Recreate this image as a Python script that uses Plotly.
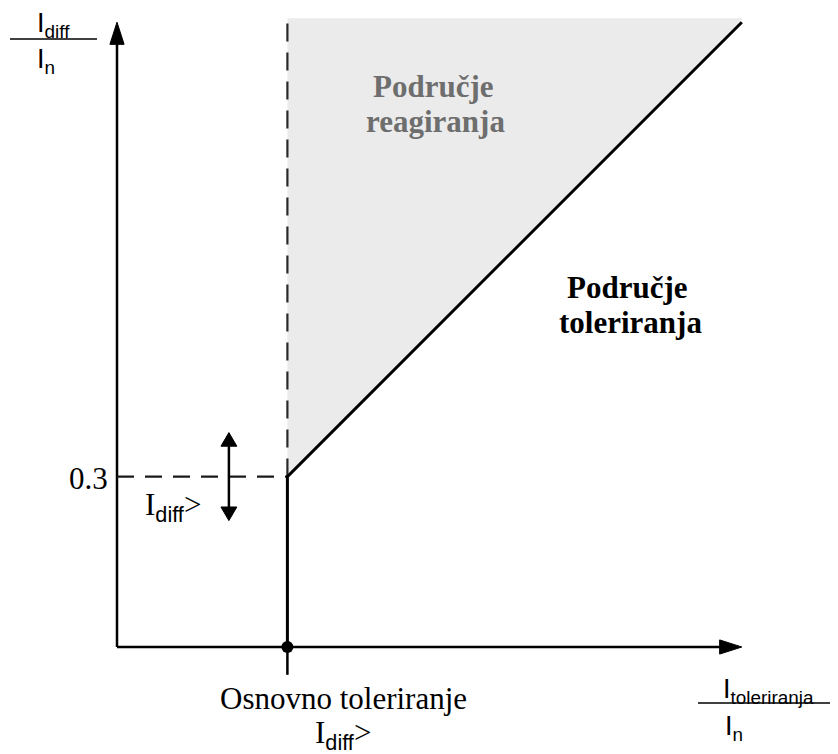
import plotly.graph_objects as go

# ---- conceptual data (per-unit values) ----
knee_x = 0.3          # basic tolerance (Osnovno toleriranje)
knee_y = 0.3          # I_diff> threshold
char_x = [knee_x, knee_x, 1.1]     # characteristic: vertical then slope-1 line
char_y = [0.0, knee_y, 1.1]
region_top = 1.107
axis_end = 1.1
arrow_span = 0.0775    # half-length of the I_diff> adjustment arrow
arrow_x = 0.197
tick_below = -0.049

SERIF = "Liberation Serif, Times New Roman, serif"
SANS = "Liberation Sans, Arial, sans-serif"

fig = go.Figure()

# shaded operate region
fig.add_trace(go.Scatter(
    x=[knee_x, knee_x, 1.102, knee_x], y=[knee_y, region_top, region_top, knee_y],
    mode="lines", fill="toself", fillcolor="#ebebeb", line=dict(width=0),
    hoverinfo="skip", showlegend=False))

# axes
fig.add_trace(go.Scatter(x=[0, 0], y=[0, axis_end - 0.03], mode="lines",
                         line=dict(color="black", width=2.5), showlegend=False, hoverinfo="skip"))
fig.add_trace(go.Scatter(x=[0, axis_end - 0.03], y=[0, 0], mode="lines",
                         line=dict(color="black", width=2.5), showlegend=False, hoverinfo="skip"))

# dashed guides
fig.add_trace(go.Scatter(x=[knee_x, knee_x], y=[knee_y, axis_end], mode="lines",
                         line=dict(color="#2a2a2a", width=2.2, dash="18px,11px"),
                         showlegend=False, hoverinfo="skip"))
fig.add_trace(go.Scatter(x=[0, knee_x], y=[knee_y, knee_y], mode="lines",
                         line=dict(color="#1a1a1a", width=2.2, dash="17px,11px"),
                         showlegend=False, hoverinfo="skip"))

# tick below axis
fig.add_trace(go.Scatter(x=[knee_x, knee_x], y=[0, tick_below], mode="lines",
                         line=dict(color="black", width=2.5), showlegend=False, hoverinfo="skip"))

# characteristic
fig.add_trace(go.Scatter(x=char_x, y=char_y, mode="lines",
                         line=dict(color="black", width=3), showlegend=False, hoverinfo="skip"))

# adjustment arrow shaft
fig.add_trace(go.Scatter(x=[arrow_x, arrow_x], y=[knee_y - arrow_span + 0.02, knee_y + arrow_span - 0.02],
                         mode="lines", line=dict(color="black", width=2.5),
                         showlegend=False, hoverinfo="skip"))

# origin dot at basic tolerance
fig.add_trace(go.Scatter(x=[knee_x], y=[0], mode="markers",
                         marker=dict(color="black", size=12), showlegend=False, hoverinfo="skip"))

# arrow heads (triangles)
hl, hw = 0.039, 0.0125
sl, sw = 0.024, 0.014
def tri(pts):
    d = "M " + " L ".join(f"{px},{py}" for px, py in pts) + " Z"
    return dict(type="path", path=d, xref="x", yref="y", fillcolor="black",
                line=dict(color="black", width=1))
shapes = [
    tri([(0, axis_end), (-hw, axis_end - hl), (hw, axis_end - hl)]),
    tri([(axis_end, 0), (axis_end - hl, hw), (axis_end - hl, -hw)]),
    tri([(arrow_x, knee_y + arrow_span), (arrow_x - sw, knee_y + arrow_span - sl),
         (arrow_x + sw, knee_y + arrow_span - sl)]),
    tri([(arrow_x, knee_y - arrow_span), (arrow_x - sw, knee_y - arrow_span + sl),
         (arrow_x + sw, knee_y - arrow_span + sl)]),
    # fraction bars of axis labels
    dict(type="line", xref="x", yref="y", x0=-0.1884, x1=-0.0352, y0=1.0704, y1=1.0704,
         line=dict(color="black", width=1.5)),
    dict(type="line", xref="x", yref="y", x0=1.0229, x1=1.2694, y0=-0.0986, y1=-0.0986,
         line=dict(color="black", width=1.5)),
]

def ann(x, y, text, size, family=SERIF, color="black", xanchor="center", yanchor="middle"):
    return dict(x=x, y=y, xref="x", yref="y", text=text, showarrow=False,
                font=dict(family=family, size=size, color=color),
                xanchor=xanchor, yanchor=yanchor, borderpad=0, borderwidth=0)

sub = lambda s: f"<sub><span style='font-family:{SANS}'>{s}</span></sub>"

annotations = [
    ann(0.558, 0.9868, "<b>Područje</b>", 31, color="#6e6e6e"),
    ann(0.560, 0.9252, "<b>reagiranja</b>", 31, color="#6e6e6e"),
    ann(0.8996, 0.6329, "<b>Područje</b>", 31),
    ann(0.9032, 0.5713, "<b>toleriranja</b>", 31),
    ann(-0.0158, 0.2967, "0.3", 31, xanchor="right"),
    ann(0.0493, 0.2465, "I" + sub("diff") + "&gt;", 31, xanchor="left"),
    ann(0.3979, -0.0907, "Osnovno toleriranje", 31),
    ann(0.397, -0.1550, "I" + sub("diff") + "&gt;", 31),
    ann(-0.1408, 1.0950, "I" + "<sub>diff</sub>", 27, family=SANS, xanchor="left"),
    ann(-0.1408, 1.0320, "I" + "<sub>n</sub>", 27, family=SANS, xanchor="left"),
    ann(1.0669, -0.0780, "I" + "<sub>toleriranja</sub>", 27, family=SANS, xanchor="left"),
    ann(1.0704, -0.1420, "I" + "<sub>n</sub>", 27, family=SANS, xanchor="left"),
]

# the page body has an 8px margin, so the figure is 8px smaller and the
# axis ranges are chosen so that the origin lands at page pixel (117, 647)
fig.update_layout(
    width=830, height=746,
    margin=dict(l=0, r=0, t=0, b=0),
    paper_bgcolor="white", plot_bgcolor="white",
    xaxis=dict(range=[-109 / 568, 721 / 568], visible=False, fixedrange=True),
    yaxis=dict(range=[-107 / 568, 639 / 568], visible=False, fixedrange=True),
    shapes=shapes, annotations=annotations, showlegend=False,
)

fig.write_html("out.html")
